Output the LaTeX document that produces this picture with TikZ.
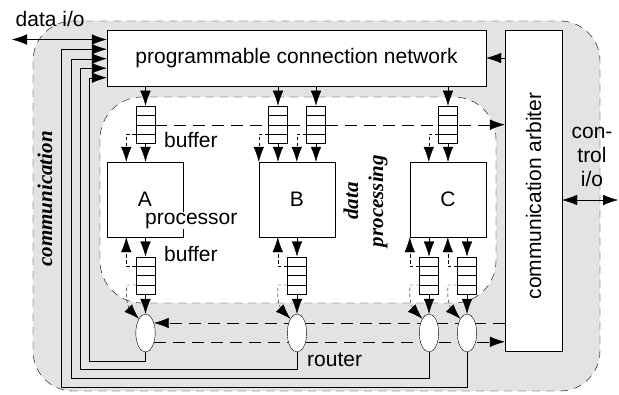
\documentclass[tikz,border=0pt]{standalone}
\usepackage{fontspec}
\setmainfont{Liberation Sans}
\newfontfamily\labelserif{Liberation Serif}
\usetikzlibrary{arrows.meta,calc,shapes.geometric}
\definecolor{zone}{gray}{0.89}
\pgfdeclarelayer{zones}
\pgfdeclarelayer{wires}
\pgfsetlayers{zones,wires,main}
\begin{document}
\begin{tikzpicture}[x=1pt,y=-1pt,line width=1.25pt,
  font=\fontsize{21}{24}\selectfont,
  >={Latex[length=15pt,width=10.5pt]},
  unitbox/.style={draw,fill=white,inner sep=0pt},
  fifo/.style={draw,fill=white,minimum width=19pt,minimum height=37.6pt,inner sep=0pt,
    path picture={\foreach \k in {0.25,0.5,0.75}
      \draw ($(path picture bounding box.north west)!\k!(path picture bounding box.south west)$)
         -- ($(path picture bounding box.north east)!\k!(path picture bounding box.south east)$);}},
  switchnode/.style={draw,fill=white,ellipse,minimum width=19.4pt,minimum height=38pt,inner sep=0pt},
  ctlline/.style={dash pattern=on 3.5pt off 2.5pt},
  sigline/.style={dash pattern=on 12pt off 7pt},
  zoneborder/.style={dash pattern=on 8pt off 6pt},
  lbl/.style={inner sep=0pt},
  zonelabel/.style={font=\fontsize{21}{25}\selectfont\labelserif\bfseries\itshape,rotate=90,align=center}]

\useasboundingbox (0,0) rectangle (619,394);

% communication and data processing zones
\begin{pgfonlayer}{zones}
  \draw[zoneborder,fill=zone,rounded corners=40pt] (33,21) rectangle (600,391);
  \draw[zoneborder,fill=white,rounded corners=42pt] (100,97) rectangle (496,303);
\end{pgfonlayer}

% network and arbiter
\node[unitbox,minimum width=379pt,minimum height=56pt] (net) at (296.5,58) {programmable connection network};
\node[unitbox,minimum width=57pt,minimum height=321pt] (arb) at (533.5,190.5) {};
\node[lbl,rotate=90] (arbtext) at (533.5,196) {communication arbiter};

% processors
\node[unitbox,minimum width=76pt,minimum height=75pt] (pA) at (145,199.5) {A};
\node[unitbox,minimum width=76pt,minimum height=75pt] (pB) at (297,199.5) {B};
\node[unitbox,minimum width=76pt,minimum height=75pt] (pC) at (448,199.5) {C};

% input buffers
\node[fifo] (bA)  at (145.5,124.7) {};
\node[fifo] (bB1) at (278,124.7) {};
\node[fifo] (bB2) at (316,124.7) {};
\node[fifo] (bC)  at (448,124.7) {};

% output buffers
\node[fifo] (oA)  at (145.5,275.5) {};
\node[fifo] (oB)  at (297,275.5) {};
\node[fifo] (oC1) at (429,275.5) {};
\node[fifo] (oC2) at (467,275.5) {};

% routers
\node[switchnode] (rA)  at (145.5,333) {};
\node[switchnode] (rB)  at (297,333) {};
\node[switchnode] (rC1) at (429,333) {};
\node[switchnode] (rC2) at (467,333) {};

% control signals to and from the arbiter
\begin{pgfonlayer}{wires}
  \draw[sigline,->] (bA.east) -- (bA.east -| arb.west);
  \draw[sigline,->] (rA.50 -| arb.west) -- (rA.50);
  \draw[sigline,->] (rA.-45) -- (rA.-45 -| arb.west);
\end{pgfonlayer}

% network -> input buffers -> processors
\foreach \b/\p in {bA/pA,bB1/pB,bB2/pB,bC/pC} {
  \draw[->] (\b.north |- net.south) -- (\b.north);
  \draw[->] (\b.south) -- (\b.south |- \p.north);
  \draw[ctlline,->] ($(\b.south west)!.25!(\b.north west)$) -| ($(\p.north -| \b.west)+(-9.5,0)$);
}

% processors -> output buffers -> routers
\foreach \o/\p/\r in {oA/pA/rA,oB/pB/rB,oC1/pC/rC1,oC2/pC/rC2} {
  \draw[->] (\p.south -| \o.north) -- (\o.north);
  \draw[ctlline,->] ($(\o.north west)!.25!(\o.south west)$) -| ($(\p.south -| \o.west)+(-9.5,0)$);
  \draw[ctlline,->] ($(\o.north west)!.75!(\o.south west)$) -- ++(-9.5,0) -- ++(0,10)
      to[out=-90,in=135] (\r.115);
  \draw[->] (\o.south) -- (\r.north);
}

% routers back into the network
\foreach \r/\py/\px/\d in {rA/361/89.3/8.5,rB/369.5/80/18,rC1/378.5/70.7/27.5,rC2/387.5/61/37}
  \draw[->] (\r.south) |- (\px,\py) |- ($(net.south west)+(0,-\d)$);

% external ports
\coordinate (dataend) at (12,39.5);
\draw[<->] (dataend) -- (net.west |- dataend);
\coordinate (ctrlend) at (618,200);
\draw[<->] (arb.east |- ctrlend) -- (ctrlend);
\draw[->] (arb.west |- net.east) -- (net.east);

% labels
\node[lbl,anchor=base west] (dio) at (15.5,26) {data i/o};
\node[lbl,align=center] (cio) at (592,157) {con-\\trol\\i/o};
\node[zonelabel] (commlabel) at (45,199) {communication};
\node[zonelabel] (dplabel) at (365.5,201) {data\\processing};
\node[lbl,anchor=base west] (buflabelA) at (164,147.5) {buffer};
\node[lbl,anchor=base west] (buflabelB) at (164,261) {buffer};
\node[anchor=base west,fill=white,inner sep=1pt] (proclabel) at (144,224) {processor};
\node[lbl,anchor=base west] (routerlabel) at (307,366) {router};
\end{tikzpicture}
\end{document}
